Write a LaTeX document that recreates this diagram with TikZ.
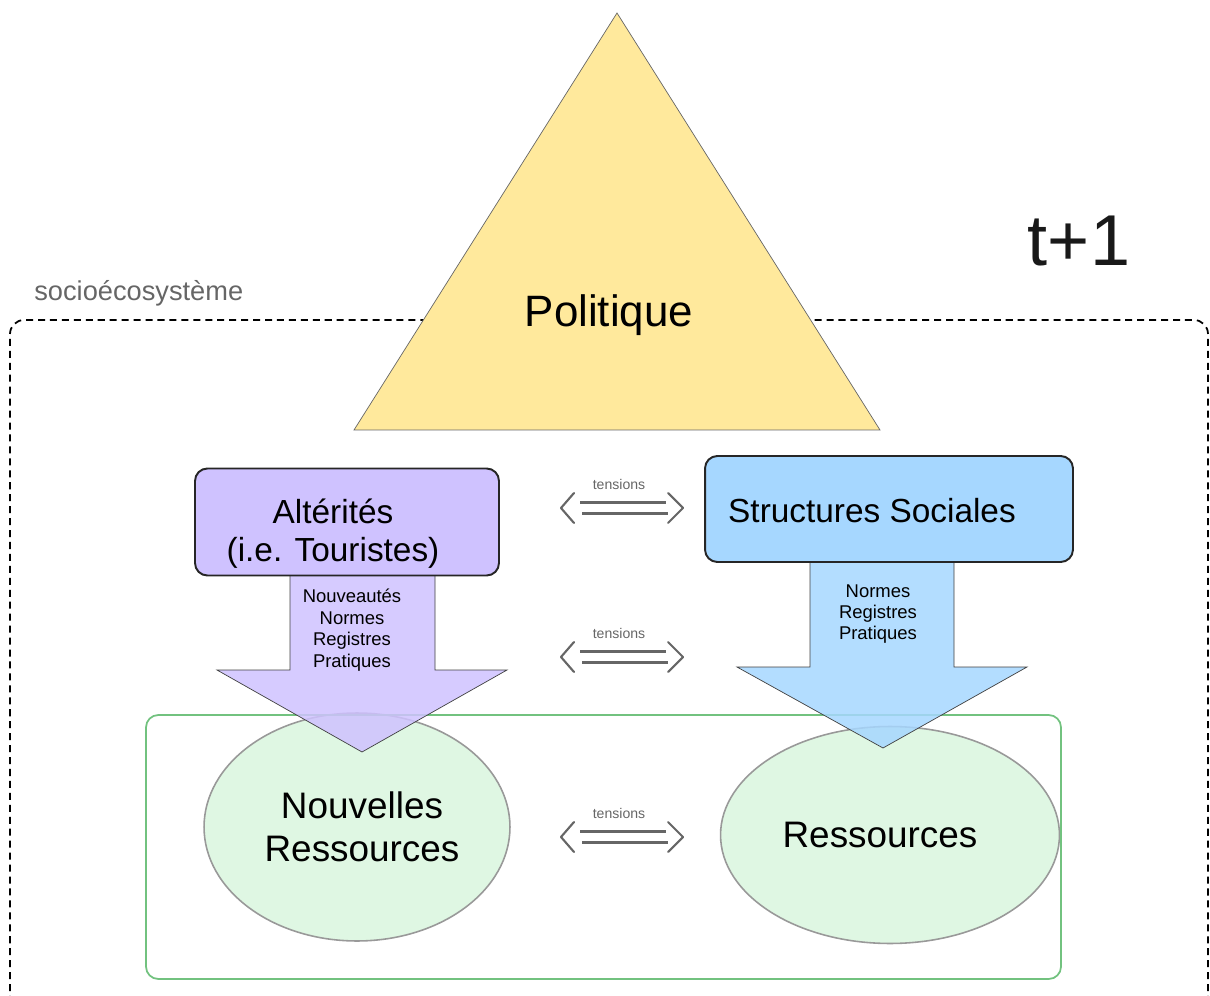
\documentclass[tikz,border=0pt]{standalone}
\usepackage{fontspec}
\setmainfont{Liberation Sans}
\usetikzlibrary{shapes.geometric}

\definecolor{politique}{HTML}{FFE99C}
\definecolor{alterite}{HTML}{CFC2FF}
\definecolor{structure}{HTML}{A6D7FF}
\definecolor{ressource}{HTML}{DFF7E3}
\definecolor{vert}{HTML}{72C27F}
\definecolor{gris}{HTML}{666666}

\begin{document}
\begin{tikzpicture}[x=0.02cm,y=-0.02cm]
\tikzstyle{every node}=[inner sep=0pt,align=center];
\tikzstyle{boite}=[draw=black!85,line width=1.1pt,rounded corners=7pt];
\tikzstyle{bulle}=[draw=black!40,line width=0.9pt,ellipse,fill=ressource];
\tikzstyle{fleche}=[draw=black!75,line width=0.4pt,fill opacity=0.85];

\useasboundingbox (0,0) rectangle (1210,996);

% socioecosysteme
\draw[dash pattern=on 4pt off 2.8pt,line width=1pt,rounded corners=8pt] (10,1003) -- (10,320) -- (1208,320) -- (1208,1003);
\node[text=gris,anchor=west,font=\fontsize{15.5}{18}\selectfont] (socio) at (34,293) {socioécosystème};
\node[font=\fontsize{41}{48}\selectfont,text=black!90] (temps) at (1079,241) {t+1};

% politique
\draw[black!60,line width=0.4pt,fill=politique] (617,13) -- (880,430) -- (354,430) -- cycle;
\node[font=\fontsize{25}{30}\selectfont] (pol) at (609,315) {Politique};

% ressources
\node[bulle,minimum width=6.12cm,minimum height=4.56cm] (nres) at (357,827) {};
\node[bulle,minimum width=6.78cm,minimum height=4.34cm] (res) at (890,835) {};
\draw[vert,line width=1pt,rounded corners=7pt] (146,715) rectangle (1061,979);

% fleches
\draw[fleche,fill=alterite] (290,570) -- (290,670) -- (217,670) -- (362,752) -- (507,670) -- (435,670) -- (435,570) -- cycle;
\draw[fleche,fill=structure] (810,556) -- (810,667) -- (737,667) -- (883,748) -- (1027,667) -- (954,667) -- (954,556) -- cycle;

% boites
\node[boite,fill=alterite,minimum width=6.08cm,minimum height=2.14cm] (alt) at (347,522) {};
\node[boite,fill=structure,minimum width=7.36cm,minimum height=2.12cm] (soc) at (889,509) {};

\node[font=\fontsize{19}{21.5}\selectfont] (altlbl) at (333,534) {Altérités\\(i.e. Touristes)};
\node[font=\fontsize{19}{21.5}\selectfont] (soclbl) at (872,511) {Structures Sociales};
\node[font=\fontsize{21}{24.5}\selectfont] (nreslbl) at (362,827) {Nouvelles\\Ressources};
\node[font=\fontsize{21}{24.5}\selectfont] (reslbl) at (880,835) {Ressources};

\node[font=\fontsize{10.5}{12.2}\selectfont,anchor=north] (altflux) at (352,589) {Nouveautés\\Normes\\Registres\\Pratiques};
\node[font=\fontsize{10.5}{12.2}\selectfont,anchor=north] (socflux) at (878,584) {Normes\\Registres\\Pratiques};

% tensions
\foreach \n/\y in {1/508,2/657,3/837}{
  \coordinate (tg\n) at (561,\y);
  \coordinate (td\n) at (683,\y);
  \draw[gris,line width=1.2pt,line cap=round,line join=round] ([shift={(13,-15)}]tg\n) -- (tg\n) -- ([shift={(13,15)}]tg\n);
  \draw[gris,line width=1.2pt,line cap=round,line join=round] ([shift={(-15,-15)}]td\n) -- (td\n) -- ([shift={(-15,15)}]td\n);
  \draw[gris,line width=1.5pt] ([shift={(19,-5.5)}]tg\n) -- ([shift={(-17,-5.5)}]td\n);
  \draw[gris,line width=1.5pt] ([shift={(21,5.5)}]tg\n) -- ([shift={(-15,5.5)}]td\n);
  \node[text=gris,font=\fontsize{8}{10}\selectfont] (tens\n) at (619,\y-24) {tensions};
}

\end{tikzpicture}
\end{document}
